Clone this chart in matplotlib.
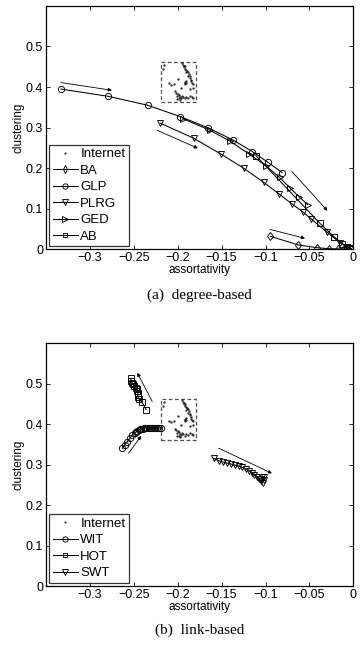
import matplotlib
matplotlib.use("Agg")
import matplotlib.pyplot as plt
from matplotlib.patches import Rectangle

plt.rcParams['font.family'] = ['Liberation Sans', 'DejaVu Sans']

# ---- dados ----
x_ticks = [-0.3, -0.25, -0.2, -0.15, -0.1, -0.05, 0]
x_tick_labels = ['\u22120.3', '\u22120.25', '\u22120.2', '\u22120.15', '\u22120.1', '\u22120.05', '0']
y_ticks = [0, 0.1, 0.2, 0.3, 0.4, 0.5]
y_tick_labels = ['0', '0.1', '0.2', '0.3', '0.4', '0.5']

# pontos "Internet" (nuvem dentro do rectangulo tracejado)
internet_x = [-0.1951, -0.1945, -0.1932, -0.1925, -0.1913, -0.1920, -0.1905, -0.1894, -0.1900,
              -0.1885, -0.1875, -0.1880, -0.1865, -0.1856, -0.1850, -0.1845, -0.1837, -0.1830,
              -0.1915, -0.1908, -0.1920, -0.1912, -0.1905,
              -0.2159, -0.2170, -0.2102, -0.2075, -0.2045, -0.2000, -0.1960, -0.1860, -0.1830,
              -0.2026, -0.2015, -0.2000, -0.2005, -0.1990, -0.1975, -0.1985, -0.1960, -0.1950,
              -0.1935, -0.1920, -0.1900, -0.1880, -0.1860, -0.1840, -0.1825, -0.2010, -0.1970]
internet_y = [0.459, 0.455, 0.453, 0.449, 0.451, 0.445, 0.443, 0.440, 0.436,
              0.437, 0.433, 0.428, 0.426, 0.422, 0.418, 0.414, 0.411, 0.407,
              0.413, 0.411, 0.410, 0.408, 0.415,
              0.455, 0.445, 0.409, 0.405, 0.408, 0.420, 0.398, 0.395, 0.398,
              0.389, 0.385, 0.382, 0.377, 0.380, 0.376, 0.372, 0.373, 0.378,
              0.375, 0.372, 0.376, 0.374, 0.378, 0.376, 0.373, 0.370, 0.368]
internet_box = (-0.2185, 0.362, 0.0395, 0.100)  # x0, y0, largura, altura

# (a) degree-based
ba_x = [-0.0945, -0.0625, -0.0416, -0.028, -0.0177, -0.0106, -0.006, -0.0025]
ba_y = [0.032, 0.0106, 0.004, 0.0015, 0.001, 0.0006, 0.0004, 0.0002]

glp_x = [-0.333, -0.279, -0.234, -0.197, -0.165, -0.1375, -0.115, -0.097, -0.081]
glp_y = [0.395, 0.377, 0.355, 0.327, 0.299, 0.270, 0.241, 0.214, 0.189]

plrg_x = [-0.220, -0.182, -0.151, -0.125, -0.102, -0.085, -0.070, -0.0575, -0.048, -0.030, -0.015, -0.006]
plrg_y = [0.311, 0.274, 0.235, 0.200, 0.165, 0.137, 0.112, 0.092, 0.075, 0.042, 0.016, 0.004]

ged_x = [-0.194, -0.163, -0.140, -0.119, -0.0995, -0.084, -0.072, -0.062, -0.052]
ged_y = [0.322, 0.293, 0.266, 0.235, 0.206, 0.177, 0.151, 0.130, 0.110]

ab_x = [-0.111, -0.038, -0.022, -0.0125, -0.0075, -0.004, -0.002]
ab_y = [0.231, 0.064, 0.031, 0.014, 0.006, 0.003, 0.001]

arrows_a = [((-0.333, 0.411), (-0.275, 0.392)),
            ((-0.223, 0.293), (-0.177, 0.249)),
            ((-0.070, 0.192), (-0.0295, 0.095)),
            ((-0.095, 0.049), (-0.055, 0.027))]

# (b) link-based
wit_x = [-0.263, -0.2606, -0.2575, -0.2545, -0.2518, -0.249, -0.2475, -0.246, -0.2445, -0.243,
         -0.2415, -0.240, -0.2385, -0.2367, -0.235, -0.233, -0.231, -0.229, -0.227, -0.2253,
         -0.2235, -0.2216, -0.219]
wit_y = [0.340, 0.3486, 0.357, 0.365, 0.373, 0.379, 0.381, 0.384, 0.3855, 0.387,
         0.388, 0.389, 0.3895, 0.390, 0.390, 0.3905, 0.3905, 0.3906, 0.3906, 0.3906,
         0.3906, 0.3906, 0.3906]

hot_x = [-0.2537, -0.2530, -0.2522, -0.2510, -0.2495, -0.2480, -0.2468, -0.2460, -0.2455,
         -0.2455, -0.2455, -0.2440, -0.2405, -0.236]
hot_y = [0.513, 0.508, 0.503, 0.499, 0.495, 0.490, 0.486, 0.482, 0.478,
         0.473, 0.467, 0.462, 0.454, 0.436]

swt_x = [-0.159, -0.1534, -0.1485, -0.1439, -0.1393, -0.1348, -0.1307, -0.1265, -0.1227,
         -0.1189, -0.1159, -0.1128, -0.1098, -0.1075, -0.1053, -0.103, -0.1015, -0.1041, -0.1020]
swt_y = [0.3156, 0.3098, 0.3066, 0.304, 0.3016, 0.299, 0.2967, 0.2934, 0.2893,
         0.285, 0.2802, 0.2752, 0.2703, 0.2654, 0.2604, 0.2555, 0.262, 0.2687, 0.2700]

arrows_b = [((-0.229, 0.456), (-0.246, 0.527)),
            ((-0.256, 0.328), (-0.2416, 0.371)),
            ((-0.1534, 0.3407), (-0.0927, 0.2786))]


def style_axes(ax):
    ax.set_xlim(-0.35, 0)
    ax.set_ylim(0, 0.6)
    ax.set_xticks(x_ticks)
    ax.set_xticklabels(x_tick_labels)
    ax.set_yticks(y_ticks)
    ax.set_yticklabels(y_tick_labels)
    ax.tick_params(direction='in', top=True, right=True, length=3, width=0.6,
                   labelsize=9, pad=2)
    for s in ax.spines.values():
        s.set_linewidth(0.9)
    ax.set_xlabel('assortativity', fontsize=8.5, labelpad=0)
    ax.set_ylabel('clustering', fontsize=8.5, labelpad=1)


def draw_internet(ax):
    ax.plot(internet_x, internet_y, '.', color='0.15', markersize=1.3, label='Internet')
    x0, y0, w, h = internet_box
    ax.add_patch(Rectangle((x0, y0), w, h, fill=False, linestyle=(0, (3, 2)),
                           edgecolor='0.3', linewidth=0.9))


def draw_arrows(ax, arrows):
    for start, end in arrows:
        ax.annotate('', xy=end, xytext=start,
                    arrowprops=dict(arrowstyle='-|>', color='k', lw=0.6,
                                    mutation_scale=5, shrinkA=0, shrinkB=0))


def series(ax, x, y, marker, name, ms=4.5):
    ax.plot(x, y, '-', color='k', lw=0.75, marker=marker, markersize=ms,
            markerfacecolor='none', markeredgecolor='k', markeredgewidth=0.65, label=name)


def add_legend(ax):
    leg = ax.legend(loc='lower left', fontsize=9.5, frameon=True, fancybox=False,
                    edgecolor='k', borderpad=0.25, handlelength=1.9, handletextpad=0.2,
                    labelspacing=0.32, borderaxespad=0.25, markerscale=0.85)
    leg.get_frame().set_linewidth(0.9)


fig = plt.figure(figsize=(3.6, 6.56), dpi=100)

ax1 = fig.add_axes([0.1278, 0.620, 0.8536, 0.371])
draw_internet(ax1)
series(ax1, ba_x, ba_y, 'd', 'BA')
series(ax1, glp_x, glp_y, 'o', 'GLP')
series(ax1, plrg_x, plrg_y, 'v', 'PLRG')
series(ax1, ged_x, ged_y, '>', 'GED')
series(ax1, ab_x, ab_y, 's', 'AB', ms=3.8)
draw_arrows(ax1, arrows_a)
style_axes(ax1)
add_legend(ax1)

ax2 = fig.add_axes([0.1278, 0.1067, 0.8536, 0.370])
draw_internet(ax2)
series(ax2, wit_x, wit_y, 'o', 'WIT')
series(ax2, hot_x, hot_y, 's', 'HOT', ms=3.8)
series(ax2, swt_x, swt_y, 'v', 'SWT')
draw_arrows(ax2, arrows_b)
style_axes(ax2)
add_legend(ax2)

fig.text(0.555, 0.550, '(a)  degree-based', family='Liberation Serif', fontsize=11,
         ha='center', va='center')
fig.text(0.555, 0.040, '(b)  link-based', family='Liberation Serif', fontsize=11,
         ha='center', va='center')

fig.savefig('out.png', dpi=100)
